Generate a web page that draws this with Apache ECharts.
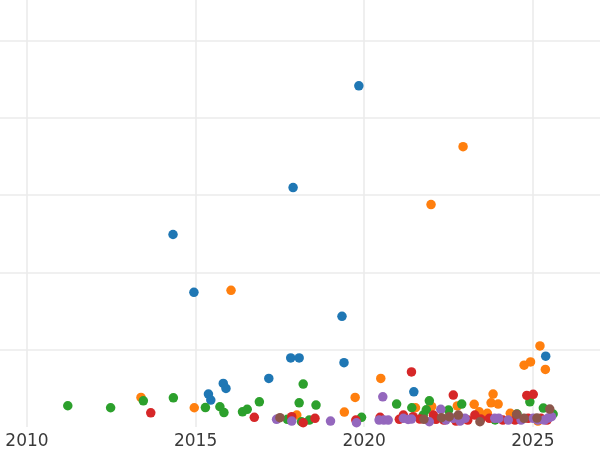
<!DOCTYPE html>
<html><head><meta charset="utf-8">
<script src="https://cdn.jsdelivr.net/npm/echarts@6/dist/echarts.min.js"></script>
<style>html,body{margin:0;padding:0;background:#fff}#c{width:600px;height:450px}</style>
</head><body><div id="c"></div>
<script>
const xTicks = [2010, 2015, 2020, 2025];
const colors = ['#1f77b4', '#ff7f0e', '#2ca02c', '#d62728', '#9467bd', '#8c564b'];
const seriesNames = ['blue', 'orange', 'green', 'red', 'purple', 'brown'];

const blue = [[2019.84,441.3],[2017.89,309.7],[2014.33,249.0],[2014.95,174.2],[2019.34,143.2],[2017.82,89.4],[2018.07,89.4],[2019.40,83.2],[2017.17,62.8],[2015.82,56.4],[2015.90,49.9],[2015.38,42.6],[2015.45,34.8],[2021.47,45.5],[2025.38,91.6]];
const orange = [[2022.93,362.6],[2021.98,287.7],[2016.05,176.8],[2025.21,104.9],[2024.93,84.2],[2024.74,80.0],[2025.37,74.4],[2020.49,62.8],[2013.38,38.3],[2014.96,24.9],[2019.73,38.3],[2019.41,19.3],[2018.00,15.5],[2023.82,42.6],[2023.76,31.3],[2023.97,29.7],[2023.26,29.3],[2023.41,19.7],[2023.65,17.7],[2022.76,27.3],[2022.00,26.4],[2021.52,24.9],[2024.33,17.7],[2025.15,7.7]];
const green = [[2011.21,27.5],[2012.48,24.9],[2013.45,33.9],[2014.34,37.8],[2015.29,25.2],[2015.72,26.2],[2015.84,18.7],[2016.39,19.7],[2016.53,22.8],[2016.89,32.6],[2018.19,55.5],[2018.07,31.3],[2018.57,28.4],[2017.72,9.9],[2018.14,6.8],[2018.37,9.0],[2019.92,12.5],[2020.96,29.7],[2021.41,24.9],[2021.93,33.9],[2021.84,22.3],[2021.75,15.5],[2022.50,21.9],[2022.89,29.7],[2024.91,32.6],[2025.31,24.5],[2025.60,16.8],[2024.53,16.8],[2022.10,10.7],[2023.88,9.2]];
const red = [[2013.67,18.4],[2016.74,12.5],[2017.85,13.3],[2018.19,5.5],[2018.54,11.2],[2019.75,9.0],[2020.47,12.5],[2021.04,9.9],[2021.40,71.3],[2022.64,41.3],[2024.82,40.9],[2025.01,42.2],[2021.16,15.5],[2021.45,13.3],[2021.65,10.3],[2022.05,15.5],[2022.13,9.9],[2022.36,9.0],[2022.72,7.7],[2022.90,10.3],[2023.07,9.0],[2023.28,15.5],[2023.46,10.3],[2023.71,11.2],[2024.11,9.0],[2024.47,9.0],[2024.86,11.2],[2025.24,11.2],[2025.42,9.0]];
const purple = [[2017.40,9.9],[2017.85,7.7],[2019.00,7.7],[2019.77,5.5],[2020.55,39.1],[2020.44,9.0],[2020.58,9.0],[2020.71,9.0],[2021.16,11.2],[2021.30,9.7],[2021.40,10.3],[2021.93,6.8],[2022.27,22.8],[2022.42,9.0],[2022.64,11.2],[2022.84,7.7],[2022.99,11.2],[2023.87,11.2],[2023.99,11.2],[2024.27,9.0],[2024.65,9.0],[2025.01,11.2],[2025.15,9.0],[2025.34,9.0],[2025.45,11.6],[2025.55,13.3]];
const brown = [[2017.50,12.0],[2021.77,9.9],[2022.29,12.0],[2022.52,13.3],[2022.79,15.5],[2023.43,6.8],[2024.52,16.4],[2024.74,11.2],[2025.12,11.6],[2025.50,23.2]];

const allData = [blue, orange, green, red, purple, brown];
const chart = echarts.init(document.getElementById('c'), null, {renderer: 'canvas'});
chart.setOption({
  animation: false,
  backgroundColor: '#ffffff',
  grid: {left: 0, right: 0, top: 0, bottom: 22, containLabel: false},
  xAxis: {
    type: 'value', min: 2009.2, max: 2026.99,
    axisLine: {show: false}, axisTick: {show: false, customValues: xTicks},
    axisLabel: {customValues: xTicks, fontFamily: 'DejaVu Sans', fontSize: 17, color: '#3a3a3a', margin: 6, formatter: v => String(v)},
    splitLine: {show: true, lineStyle: {color: '#ebebeb', width: 1.6}}
  },
  yAxis: {
    type: 'value', min: 0, max: 552.3, interval: 100,
    axisLine: {show: false}, axisTick: {show: false}, axisLabel: {show: false},
    splitLine: {show: true, showMinLine: false, showMaxLine: false, lineStyle: {color: '#ebebeb', width: 1.6}}
  },
  series: allData.map((d, i) => ({
    name: seriesNames[i], type: 'scatter', data: d, symbol: 'circle', symbolSize: 9.5,
    itemStyle: {color: colors[i], opacity: 1}, z: 2 + i
  }))
});
</script></body></html>
